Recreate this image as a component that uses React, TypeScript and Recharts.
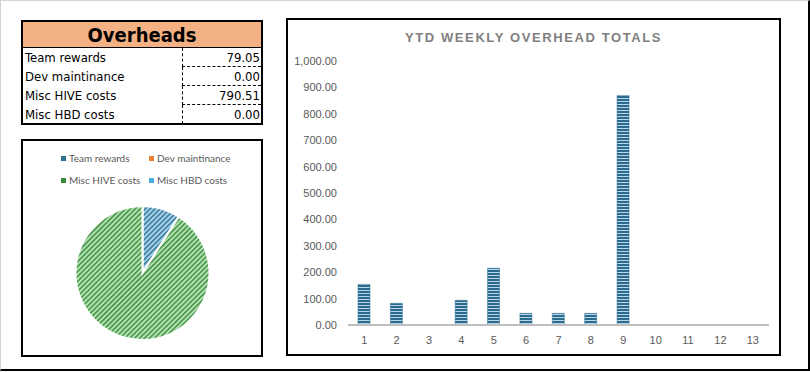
import React from 'react';
import { BarChart, Bar, XAxis, YAxis, PieChart, Pie, Cell } from 'recharts';

const overheadLabels = ['Team rewards', 'Dev maintinance', 'Misc HIVE costs', 'Misc HBD costs'];
const overheadValues = [79.05, 0, 790.51, 0];
const overheadFills = ['url(#pieBlue)', '#ed7d31', 'url(#pieGreen)', '#5ab4e0'];
const legendMarkers = ['#2e6e8e', '#ed7d31', '#3a8a3a', '#4aaee0'];

const weeks = ['1', '2', '3', '4', '5', '6', '7', '8', '9', '10', '11', '12', '13'];
const weeklyTotals = [154, 82, 0, 93.5, 215, 44, 44, 44, 869.56, 0, 0, 0, 0];
const yTicks = [0, 100, 200, 300, 400, 500, 600, 700, 800, 900, 1000];

const tableFont = '"DejaVu Sans Condensed", "Liberation Sans Narrow", "DejaVu Sans", sans-serif';
const chartFont = '"Liberation Sans", Arial, sans-serif';
const legendFont = 'Lato, "Liberation Sans", sans-serif';

const barData = weeks.map((w, i) => ({ week: w, total: weeklyTotals[i] }));
const pieData = overheadLabels.map((n, i) => ({ name: n, value: overheadValues[i] }));

const fmt = (v: number) =>
  v.toLocaleString('en-US', { minimumFractionDigits: 2, maximumFractionDigits: 2 });

export default function App() {
  return (
    <div style={{ position: 'absolute', left: 0, top: 0, width: 810, height: 372, background: '#fff', overflow: 'hidden' }}>
      {/* outer frame */}
      <div style={{ position: 'absolute', left: 0, top: 0, width: 810, height: 371, boxSizing: 'border-box', borderLeft: '1px solid #d4d4d4', borderTop: '1px solid #d4d4d4', borderRight: '2px solid #000', borderBottom: '2px solid #000' }} />

      {/* Table */}
      <div style={{ position: 'absolute', left: 21, top: 20, width: 242, height: 105, boxSizing: 'border-box', border: '2px solid #000', fontFamily: tableFont, color: '#000' }}>
        <div style={{ height: 26, background: '#f4b183', borderBottom: '1px solid #000', boxSizing: 'border-box', textAlign: 'center', fontWeight: 'bold', fontSize: 20, lineHeight: '26px' }}>
          Overheads
        </div>
        {overheadLabels.map((lab, i) => (
          <div key={lab} style={{ display: 'flex', height: 19, fontSize: 13, lineHeight: '20px' }}>
            <div style={{ width: 159, paddingLeft: 2, boxSizing: 'border-box' }}>{lab}</div>
            <div style={{ flex: 1, borderLeft: '1px dashed #000', borderBottom: i < 3 ? '1px dashed #000' : 'none', boxSizing: 'border-box', textAlign: 'right', paddingRight: 1 }}>
              {fmt(overheadValues[i])}
            </div>
          </div>
        ))}
      </div>

      {/* Pie box */}
      <div style={{ position: 'absolute', left: 21, top: 139, width: 242, height: 218, boxSizing: 'border-box', border: '2px solid #000' }} />
      <div style={{ position: 'absolute', left: 21, top: 139 }}>
        <PieChart width={242} height={218} margin={{ top: 0, right: 0, bottom: 0, left: 0 }}>
          <defs>
            <pattern id="pieGreen" width="3.5" height="3.5" patternUnits="userSpaceOnUse" patternTransform="rotate(45)">
              <rect width="3.5" height="3.5" fill="#b4e2b4" />
              <rect width="1.4" height="3.5" fill="#3a8a3a" />
            </pattern>
            <pattern id="pieBlue" width="3.5" height="3.5" patternUnits="userSpaceOnUse" patternTransform="rotate(45)">
              <rect width="3.5" height="3.5" fill="#a6d2ec" />
              <rect width="1.4" height="3.5" fill="#2e6e8e" />
            </pattern>
          </defs>
          <Pie
            data={pieData}
            dataKey="value"
            nameKey="name"
            cx={121.5}
            cy={134}
            outerRadius={67}
            startAngle={90}
            endAngle={-270}
            stroke="#fff"
            strokeWidth={2}
            isAnimationActive={false}
          >
            {pieData.map((d, i) => (
              <Cell key={d.name} fill={overheadFills[i]} />
            ))}
          </Pie>
        </PieChart>
      </div>
      {overheadLabels.map((lab, i) => {
        const col = i % 2;
        const row = Math.floor(i / 2);
        return (
          <div key={lab} style={{ position: 'absolute', left: col === 0 ? 61 : 149, top: 151 + row * 22, height: 14, display: 'flex', alignItems: 'center', fontFamily: legendFont, fontSize: 10, color: '#595959', whiteSpace: 'nowrap' }}>
            <span style={{ display: 'inline-block', width: 5, height: 5, background: legendMarkers[i], marginRight: 3 }} />
            {lab}
          </div>
        );
      })}

      {/* Bar chart box */}
      <div style={{ position: 'absolute', left: 286, top: 18, width: 495, height: 338, boxSizing: 'border-box', border: '2px solid #000' }} />
      <div style={{ position: 'absolute', left: 286, top: 30, width: 495, textAlign: 'center', fontFamily: chartFont, fontWeight: 'bold', fontSize: 13, letterSpacing: 1.6, color: '#7f7f7f' }}>
        YTD WEEKLY OVERHEAD TOTALS
      </div>
      <div style={{ position: 'absolute', left: 286, top: 18 }}>
        <BarChart width={495} height={338} data={barData} margin={{ top: 43, right: 12, left: 0, bottom: 0 }}>
          <defs>
            <pattern id="barStripe" width="4" height="3" patternUnits="userSpaceOnUse">
              <rect width="4" height="3" fill="#b8d7e8" />
              <rect width="4" height="2" fill="#2b6a8e" />
            </pattern>
          </defs>
          <XAxis
            dataKey="week"
            height={31}
            interval={0}
            tickLine={false}
            axisLine={{ stroke: '#bfbfbf', strokeWidth: 2 }}
            tickMargin={5}
            tick={{ fill: '#595959', fontSize: 11, fontFamily: chartFont }}
          />
          <YAxis
            width={62}
            domain={[0, 1000]}
            ticks={yTicks}
            interval={0}
            tickFormatter={fmt}
            axisLine={false}
            tickLine={false}
            tickMargin={5}
            tick={{ fill: '#595959', fontSize: 11, fontFamily: chartFont }}
          />
          <Bar dataKey="total" barSize={12} fill="url(#barStripe)" stroke="#2b6a8e" strokeWidth={0.5} isAnimationActive={false} />
        </BarChart>
      </div>
    </div>
  );
}
